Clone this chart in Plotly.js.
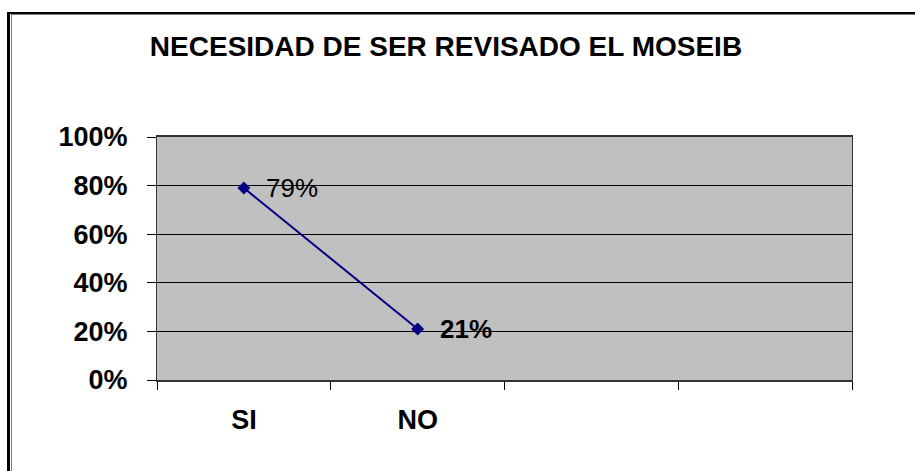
<!DOCTYPE html>
<html>
<head>
<meta charset="utf-8">
<script src="https://cdn.plot.ly/plotly-3.0.1.min.js"></script>
<style>
  html, body { margin: 0; padding: 0; background: #fff; }
  #wrap { position: relative; width: 915px; height: 471px; overflow: hidden; }
  #chart { position: absolute; left: 0; top: 0; width: 915px; height: 471px; }
  #frameOuter { position: absolute; left: 7px; top: 12px; width: 1000px; height: 600px;
    border-left: 3px solid #000; border-top: 2px solid #000; pointer-events: none; }
  #frameInner { position: absolute; left: 11px; top: 14px; width: 1000px; height: 600px;
    border-left: 1px solid #808080; border-top: 1px solid #808080; pointer-events: none; }
</style>
</head>
<body>
<div id="wrap">
  <div id="chart"></div>
  <div id="frameOuter"></div>
  <div id="frameInner"></div>
</div>
<script>
const title = 'NECESIDAD DE SER REVISADO EL MOSEIB';
const categories = ['SI', 'NO', ' ', '  '];
const seriesX = ['SI', 'NO'];
const seriesY = [0.79, 0.21];
const dataLabels = ['79%', '21%'];
const yTickVals = [0, 0.2, 0.4, 0.6, 0.8, 1.0];
const yTickText = ['0%', '20%', '40%', '60%', '80%', '100%'];

const labelWeights = ['normal', 'bold'];
const font = 'Liberation Sans, Arial, sans-serif';

const trace = {
  type: 'scatter',
  mode: 'lines+markers',
  x: seriesX,
  y: seriesY,
  line: { color: '#000080', width: 2 },
  marker: { symbol: 'diamond', size: 10, color: '#000080' },
  cliponaxis: false,
  hoverinfo: 'skip'
};

const annotations = seriesX.map((cx, i) => ({
  x: cx,
  y: seriesY[i],
  xref: 'x',
  yref: 'y',
  text: dataLabels[i],
  showarrow: false,
  xanchor: 'left',
  yanchor: 'middle',
  xshift: 20,
  yshift: 0,
  font: { family: font, size: 26, color: '#000', weight: labelWeights[i] }
}));

const layout = {
  width: 915,
  height: 471,
  margin: { l: 157, r: 63, t: 137, b: 91 },
  paper_bgcolor: '#ffffff',
  plot_bgcolor: '#c0c0c0',
  showlegend: false,
  annotations: annotations,
  title: {
    text: title,
    font: { family: font, size: 28, color: '#000', weight: 'bold' },
    x: 446 / 915, xref: 'container', xanchor: 'center',
    y: 1 - 46 / 471, yref: 'container', yanchor: 'middle'
  },
  xaxis: {
    type: 'category',
    categoryorder: 'array',
    categoryarray: categories,
    range: [-0.5, 3.5],
    tickson: 'boundaries',
    ticks: 'outside',
    ticklen: 8,
    tickwidth: 1,
    tickcolor: '#000',
    showgrid: false,
    showline: true,
    linecolor: '#333',
    linewidth: 2,
    mirror: true,
    ticklabelstandoff: 15,
    tickfont: { family: font, size: 27, color: '#000', weight: 'bold' },
    fixedrange: true
  },
  yaxis: {
    range: [0, 1],
    tickvals: yTickVals,
    ticktext: yTickText,
    ticks: 'outside',
    ticklen: 9,
    tickwidth: 1,
    tickcolor: '#000',
    showgrid: true,
    gridcolor: '#000',
    gridwidth: 1,
    showline: true,
    linecolor: '#333',
    linewidth: 1,
    mirror: true,
    zeroline: false,
    ticklabelstandoff: 14,
    tickfont: { family: font, size: 27, color: '#000', weight: 'bold' },
    fixedrange: true
  }
};

Plotly.newPlot('chart', [trace], layout, { displayModeBar: false, staticPlot: true });
</script>
</body>
</html>
